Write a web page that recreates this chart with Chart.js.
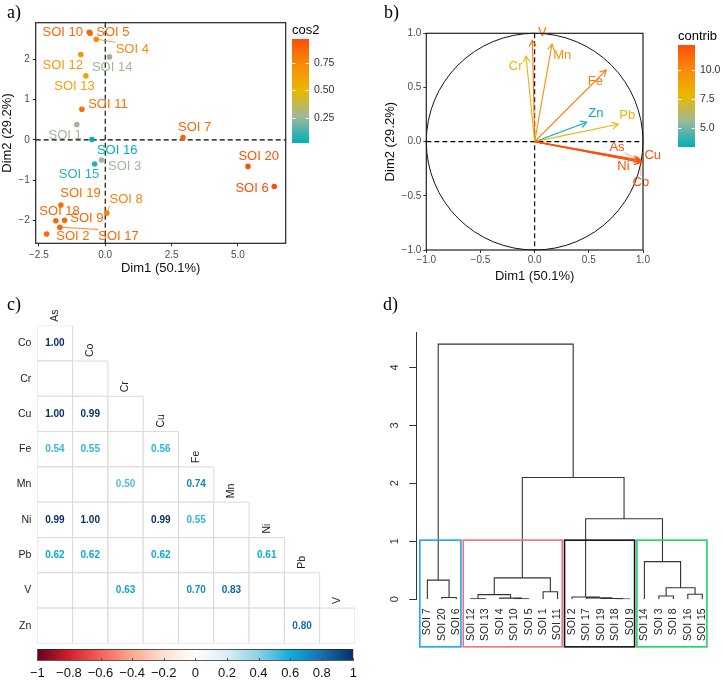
<!DOCTYPE html>
<html>
<head>
<meta charset="utf-8">
<script src="https://cdn.jsdelivr.net/npm/chart.js@4.4.1/dist/chart.umd.min.js"></script>
<style>
  body { margin: 0; background: #fff; width: 724px; height: 680px; position: relative; overflow: hidden; }
  .panel { position: absolute; }
  .tag { position: absolute; font-family: 'Liberation Serif', 'Times New Roman', serif; font-size: 18px; color: #000; line-height: 1; }
</style>
</head>
<body>
<div class="panel" style="left:0;top:0;width:362px;height:290px"><canvas id="pcaInd"></canvas></div>
<div class="panel" style="left:362px;top:0;width:362px;height:290px"><canvas id="pcaVar"></canvas></div>
<div class="panel" style="left:0;top:290px;width:362px;height:360px"><canvas id="corr"></canvas></div>
<div class="panel" style="left:0;top:645px;width:362px;height:35px"><canvas id="corrBar"></canvas></div>
<div class="panel" style="left:362px;top:290px;width:362px;height:390px"><canvas id="dendro"></canvas></div>
<div class="tag" style="left:7px;top:3px">a)</div>
<div class="tag" style="left:384px;top:3px">b)</div>
<div class="tag" style="left:7px;top:295px">c)</div>
<div class="tag" style="left:383px;top:295px">d)</div>
<script>
// ---- données : individus (ACP) ----
const soiNames = ['SOI 1', 'SOI 2', 'SOI 3', 'SOI 4', 'SOI 5', 'SOI 6', 'SOI 7', 'SOI 8', 'SOI 9', 'SOI 10',
  'SOI 11', 'SOI 12', 'SOI 13', 'SOI 14', 'SOI 15', 'SOI 16', 'SOI 17', 'SOI 18', 'SOI 19', 'SOI 20'];
const dim1 = [-1.07, -2.21, -0.14, -0.34, -0.57, 6.37, 2.93, 0.06, -1.53, -0.60, -0.88, -0.92, -0.73, 0.16, -0.40, -0.50, -1.71, -1.86, -1.67, 5.38];
const dim2 = [0.38, -2.34, -0.50, 2.50, 2.65, -1.16, 0.06, -1.82, -2.00, 2.67, 0.76, 2.12, 1.59, 2.06, -0.60, 0.01, -2.17, -2.01, -1.62, -0.66];
const cos2 = [0.26, 0.86, 0.26, 0.74, 0.86, 0.97, 0.88, 0.76, 0.88, 0.88, 0.84, 0.67, 0.62, 0.27, 0.08, 0.02, 0.88, 0.88, 0.85, 0.95];
// où poser les étiquettes (repel)
const indLabX = [-1.51, -1.22, 0.73, 1.02, 0.29, 5.53, 3.37, 0.79, -0.69, -1.60, 0.10, -1.60, -1.16, 0.26, -0.99, 0.45, 0.50, -1.72, -0.93, 5.78];
const indLabY = [0.12, -2.40, -0.67, 2.25, 2.67, -1.20, 0.31, -1.49, -1.94, 2.67, 0.88, 1.86, 1.32, 1.79, -0.85, -0.26, -2.40, -1.77, -1.34, -0.41];
const indSegments = ['SOI 4', 'SOI 8', 'SOI 17'];
const cos2Ticks = [0.25, 0.5, 0.75];

// ---- données : variables ----
const varNames = ['As', 'Co', 'Cr', 'Cu', 'Fe', 'Mn', 'Ni', 'Pb', 'V', 'Zn'];
const varDim1 = [0.97, 0.98, -0.08, 0.99, 0.66, 0.16, 0.98, 0.77, -0.02, 0.48];
const varDim2 = [-0.17, -0.19, 0.79, -0.18, 0.66, 0.90, -0.19, 0.16, 0.935, 0.18];
const contrib = [12.0, 12.15, 8.0, 12.1, 10.6, 9.7, 12.0, 7.9, 11.1, 3.4];
const varLabX = [0.76, 0.98, -0.175, 1.09, 0.56, 0.255, 0.82, 0.855, 0.07, 0.565];
const varLabY = [-0.05, -0.38, 0.69, -0.13, 0.56, 0.80, -0.225, 0.243, 1.01, 0.265];
const varSegments = ['As', 'Co'];
const contribTicks = [5, 7.5, 10];

// ---- données : corrélations ----
const corrRows = ['Co', 'Cr', 'Cu', 'Fe', 'Mn', 'Ni', 'Pb', 'V', 'Zn'];
const corrCols = ['As', 'Co', 'Cr', 'Cu', 'Fe', 'Mn', 'Ni', 'Pb', 'V'];
const corrValues = [
  [1.00],
  [null, null],
  [1.00, 0.99, null],
  [0.54, 0.55, null, 0.56],
  [null, null, 0.50, null, 0.74],
  [0.99, 1.00, null, 0.99, 0.55, null],
  [0.62, 0.62, null, 0.62, null, null, 0.61],
  [null, null, 0.63, null, 0.70, 0.83, null, null],
  [null, null, null, null, null, null, null, 0.80, null]
];

// ---- données : dendrogramme ----
const leafOrder = ['SOI 7', 'SOI 20', 'SOI 6', 'SOI 12', 'SOI 13', 'SOI 4', 'SOI 10', 'SOI 5', 'SOI 1', 'SOI 11',
  'SOI 2', 'SOI 17', 'SOI 19', 'SOI 18', 'SOI 9', 'SOI 14', 'SOI 3', 'SOI 8', 'SOI 16', 'SOI 15'];
const mergeA = [-2, -1, -4, -7, -6, 3, -9, 6, -14, -13, -12, -11, -17, -19, 13, -16, 12, 8, 2];
const mergeB = [-3, 1, -5, -8, 4, 5, -10, 7, -15, 9, 10, 11, -18, -20, 14, 15, 16, 17, 18];
const mergeH = [0.03, 0.33, 0.01, 0.01, 0.02, 0.08, 0.13, 0.37, 0.006, 0.015, 0.025, 0.04, 0.057, 0.086, 0.20, 0.65, 1.39, 2.10, 4.40];
const groupFirst = [1, 4, 11, 16];
const groupLast = [3, 10, 15, 20];
const groupColors = ['#1ca6f2', '#f4707e', '#111111', '#22d35f'];

// Réglages globaux
Chart.defaults.animation = false;
Chart.defaults.events = [];
Chart.defaults.maintainAspectRatio = false;
Chart.defaults.font.family = "'Liberation Sans', Arial, sans-serif";
Chart.defaults.plugins.legend.display = false;
Chart.defaults.plugins.tooltip.enabled = false;

const FONT = "'Liberation Sans', Arial, sans-serif";
const fxStops = [[0, '#00AFBB'], [0.25, '#9db79b'], [0.5, '#EBB800'], [0.75, '#f88c0a'], [1, '#FC4E07']];
const rdbuStops = [[0, '#67001f'], [0.1, '#d21f2c'], [0.2, '#f2625a'], [0.3, '#fba98e'], [0.4, '#fde0d2'], [0.5, '#ffffff'],
  [0.6, '#d9eef6'], [0.7, '#8ed0e8'], [0.8, '#12acd8'], [0.9, '#1470b0'], [1, '#053061']];

function hexRgb(h) {
  const n = parseInt(h.slice(1), 16);
  return [n >> 16, (n >> 8) & 255, n & 255];
}
function rampColor(stops, t) {
  t = Math.max(0, Math.min(1, t));
  for (let i = 1; i < stops.length; i++) {
    if (t <= stops[i][0]) {
      const f = (t - stops[i - 1][0]) / (stops[i][0] - stops[i - 1][0]);
      const a = hexRgb(stops[i - 1][1]), b = hexRgb(stops[i][1]);
      return 'rgb(' + a.map((v, k) => Math.round(v + (b[k] - v) * f)).join(',') + ')';
    }
  }
  return stops[stops.length - 1][1];
}
function fmtNum(v, d) {
  const s = Math.abs(v).toFixed(d);
  return (v < -1e-9 ? '\u2212' : '') + s;
}

// barre de couleur verticale (légende ggplot)
function drawColorbar(ctx, x, y, w, h, vmin, vmax, ticks, digits, title) {
  const g = ctx.createLinearGradient(0, y + h, 0, y);
  fxStops.forEach(s => g.addColorStop(s[0], s[1]));
  ctx.fillStyle = g;
  ctx.fillRect(x, y, w, h);
  ctx.strokeStyle = 'rgba(255,255,255,0.9)';
  ctx.lineWidth = 1;
  ctx.font = '10.5px ' + FONT;
  ctx.textAlign = 'left';
  ctx.textBaseline = 'middle';
  ticks.forEach(v => {
    const py = Math.round(y + h - (v - vmin) / (vmax - vmin) * h) + 0.5;
    ctx.beginPath();
    ctx.moveTo(x, py); ctx.lineTo(x + 3.5, py);
    ctx.moveTo(x + w - 3.5, py); ctx.lineTo(x + w, py);
    ctx.stroke();
    ctx.fillStyle = '#333';
    ctx.fillText(v.toFixed(digits), x + w + 5, py);
  });
  ctx.fillStyle = '#000';
  ctx.font = '13px ' + FONT;
  ctx.fillText(title, x, y - 9);
}

function labelRect(ctx, cx, cy, text) {
  const w = ctx.measureText(text).width;
  return { l: cx - w / 2, r: cx + w / 2, t: cy - 7, b: cy + 6 };
}
function nearestOnRect(r, px, py) {
  return [Math.max(r.l, Math.min(r.r, px)), Math.max(r.t, Math.min(r.b, py))];
}

function drawZeroLines(chart) {
  const { ctx, chartArea: a, scales: { x, y } } = chart;
  const x0 = x.getPixelForValue(0), y0 = y.getPixelForValue(0);
  ctx.save();
  ctx.strokeStyle = '#000';
  ctx.lineWidth = 1.1;
  ctx.setLineDash([5, 3]);
  ctx.beginPath();
  ctx.moveTo(a.left, y0); ctx.lineTo(a.right, y0);
  ctx.moveTo(x0, a.top); ctx.lineTo(x0, a.bottom);
  ctx.stroke();
  ctx.restore();
}
function drawFrame(chart) {
  const { ctx, chartArea: a } = chart;
  ctx.save();
  ctx.strokeStyle = '#222';
  ctx.lineWidth = 1.2;
  ctx.strokeRect(a.left, a.top, a.right - a.left, a.bottom - a.top);
  ctx.restore();
}

// ---------------- a) individus ----------------
const cosMin = Math.min(...cos2), cosMax = Math.max(...cos2);
const indColors = cos2.map(v => rampColor(fxStops, (v - cosMin) / (cosMax - cosMin)));

const indPlugin = {
  id: 'indPlugin',
  beforeDatasetsDraw(chart) { drawZeroLines(chart); },
  afterDatasetsDraw(chart) {
    const { ctx, scales: { x, y } } = chart;
    ctx.save();
    ctx.font = '13px ' + FONT;
    ctx.textAlign = 'center';
    ctx.textBaseline = 'middle';
    soiNames.forEach((name, i) => {
      const lx = x.getPixelForValue(indLabX[i]), ly = y.getPixelForValue(indLabY[i]);
      if (indSegments.includes(name)) {
        const px = x.getPixelForValue(dim1[i]), py = y.getPixelForValue(dim2[i]);
        const [ex, ey] = nearestOnRect(labelRect(ctx, lx, ly, name), px, py);
        ctx.strokeStyle = indColors[i];
        ctx.lineWidth = 0.8;
        ctx.beginPath(); ctx.moveTo(px, py); ctx.lineTo(ex, ey); ctx.stroke();
      }
      ctx.fillStyle = indColors[i];
      ctx.fillText(name, lx, ly);
    });
    ctx.restore();
    drawFrame(chart);
    ctx.save();
    drawColorbar(ctx, 292, 39, 17, 104, cosMin, cosMax, cos2Ticks, 2, 'cos2');
    ctx.restore();
  }
};

new Chart(document.getElementById('pcaInd'), {
  type: 'scatter',
  data: {
    datasets: [{
      data: dim1.map((v, i) => ({ x: v, y: dim2[i] })),
      backgroundColor: indColors,
      pointRadius: 2.8,
      borderWidth: 0
    }]
  },
  options: {
    layout: { padding: { left: 0, top: 22.7, right: 76.3, bottom: 0 } },
    scales: {
      x: {
        type: 'linear', min: -2.62, max: 6.8,
        grid: { drawOnChartArea: false, color: '#333', tickLength: 3 },
        border: { display: false },
        ticks: { stepSize: 2.5, includeBounds: false, padding: 3, color: '#4d4d4d', font: { size: 10 }, maxRotation: 0, callback: v => fmtNum(v, 1) },
        title: { display: true, text: 'Dim1 (50.1%)', color: '#111', font: { size: 13 }, padding: { top: 0, bottom: 14 } },
        afterFit: s => { s.height = 46.7; }
      },
      y: {
        type: 'linear', min: -2.57, max: 2.91,
        grid: { drawOnChartArea: false, color: '#333', tickLength: 3 },
        border: { display: false },
        ticks: { stepSize: 1, includeBounds: false, padding: 3, color: '#4d4d4d', font: { size: 10 }, callback: v => fmtNum(v, 0) },
        title: { display: true, text: 'Dim2 (29.2%)', color: '#111', font: { size: 13 }, padding: { top: 0, bottom: 0 } },
        afterFit: s => { s.width = 35.7; }
      }
    }
  },
  plugins: [indPlugin]
});

// ---------------- b) variables ----------------
const ctbMin = Math.min(...contrib), ctbMax = Math.max(...contrib);
const varColors = contrib.map(v => rampColor(fxStops, (v - ctbMin) / (ctbMax - ctbMin)));

const varPlugin = {
  id: 'varPlugin',
  beforeDatasetsDraw(chart) {
    const { ctx, scales: { x, y } } = chart;
    drawZeroLines(chart);
    ctx.save();
    ctx.strokeStyle = '#111';
    ctx.lineWidth = 1;
    ctx.beginPath();
    ctx.ellipse(x.getPixelForValue(0), y.getPixelForValue(0),
      x.getPixelForValue(1) - x.getPixelForValue(0), y.getPixelForValue(0) - y.getPixelForValue(1), 0, 0, Math.PI * 2);
    ctx.stroke();
    ctx.restore();
  },
  afterDatasetsDraw(chart) {
    const { ctx, scales: { x, y } } = chart;
    ctx.save();
    // pointes de flèches
    varNames.forEach((name, i) => {
      const x0 = x.getPixelForValue(0), y0 = y.getPixelForValue(0);
      const x1 = x.getPixelForValue(varDim1[i]), y1 = y.getPixelForValue(varDim2[i]);
      const ang = Math.atan2(y1 - y0, x1 - x0);
      const len = 7;
      ctx.strokeStyle = varColors[i];
      ctx.lineWidth = 1.1;
      ctx.beginPath();
      ctx.moveTo(x1 - len * Math.cos(ang - Math.PI / 6), y1 - len * Math.sin(ang - Math.PI / 6));
      ctx.lineTo(x1, y1);
      ctx.lineTo(x1 - len * Math.cos(ang + Math.PI / 6), y1 - len * Math.sin(ang + Math.PI / 6));
      ctx.stroke();
    });
    ctx.font = '13px ' + FONT;
    ctx.textAlign = 'center';
    ctx.textBaseline = 'middle';
    varNames.forEach((name, i) => {
      const lx = x.getPixelForValue(varLabX[i]), ly = y.getPixelForValue(varLabY[i]);
      if (varSegments.includes(name)) {
        const px = x.getPixelForValue(varDim1[i]), py = y.getPixelForValue(varDim2[i]);
        const [ex, ey] = nearestOnRect(labelRect(ctx, lx, ly, name), px, py);
        ctx.strokeStyle = varColors[i];
        ctx.globalAlpha = 0.6;
        ctx.lineWidth = 0.8;
        ctx.beginPath(); ctx.moveTo(px, py); ctx.lineTo(ex, ey); ctx.stroke();
        ctx.globalAlpha = 1;
      }
      ctx.fillStyle = varColors[i];
      ctx.fillText(name, lx, ly);
    });
    ctx.restore();
    drawFrame(chart);
    ctx.save();
    drawColorbar(ctx, 316, 45, 17, 102, ctbMin, ctbMax, contribTicks, 1, 'contrib');
    ctx.restore();
  }
};

new Chart(document.getElementById('pcaVar'), {
  type: 'scatter',
  data: {
    datasets: varNames.map((name, i) => ({
      label: name,
      data: [{ x: 0, y: 0 }, { x: varDim1[i], y: varDim2[i] }],
      showLine: true,
      borderColor: varColors[i],
      borderWidth: 1.1,
      pointRadius: 0
    }))
  },
  options: {
    layout: { padding: { left: 0, top: 33.3, right: 81, bottom: 0 } },
    scales: {
      x: {
        type: 'linear', min: -1, max: 1,
        grid: { drawOnChartArea: false, color: '#333', tickLength: 3 },
        border: { display: false },
        ticks: { stepSize: 0.5, padding: 1, color: '#4d4d4d', font: { size: 10 }, maxRotation: 0, callback: v => fmtNum(v, 1) },
        title: { display: true, text: 'Dim1 (50.1%)', color: '#111', font: { size: 13 }, padding: { top: 0, bottom: 6 } },
        afterFit: s => { s.height = 40; }
      },
      y: {
        type: 'linear', min: -1, max: 1,
        grid: { drawOnChartArea: false, color: '#333', tickLength: 3 },
        border: { display: false },
        ticks: { stepSize: 0.5, padding: 2, color: '#4d4d4d', font: { size: 10 }, callback: v => fmtNum(v, 1) },
        title: { display: true, text: 'Dim2 (29.2%)', color: '#111', font: { size: 13 }, padding: { top: 20.5, bottom: 0 } },
        afterFit: s => { s.width = 64.3; }
      }
    }
  },
  plugins: [varPlugin]
});

// ---------------- c) corrélations ----------------
const corrCells = [];
corrRows.forEach((r, ri) => {
  corrCols.forEach((c, ci) => {
    if (ci <= ri) corrCells.push({ x: ci + 1, y: ri + 1 });
  });
});

const corrPlugin = {
  id: 'corrPlugin',
  afterDatasetsDraw(chart) {
    const { ctx, chartArea: a, scales: { x, y } } = chart;
    ctx.save();
    ctx.fillStyle = '#222';
    ctx.font = '10.5px ' + FONT;
    // noms de lignes
    ctx.textAlign = 'right';
    ctx.textBaseline = 'middle';
    corrRows.forEach((name, ri) => {
      ctx.fillText(name, a.left - 6, y.getPixelForValue(ri + 1));
    });
    // noms de colonnes sur la diagonale
    ctx.textAlign = 'left';
    corrCols.forEach((name, ci) => {
      const px = x.getPixelForValue(ci + 1);
      const top = y.getPixelForValue(ci + 0.5);
      ctx.save();
      ctx.translate(px, top - 4);
      ctx.rotate(-Math.PI / 2);
      ctx.fillText(name, 0, 0);
      ctx.restore();
    });
    // coefficients
    ctx.font = 'bold 10px ' + FONT;
    ctx.textAlign = 'center';
    corrValues.forEach((row, ri) => {
      row.forEach((v, ci) => {
        if (v === null) return;
        ctx.fillStyle = rampColor(rdbuStops, (v + 1) / 2);
        ctx.fillText(v.toFixed(2), x.getPixelForValue(ci + 1), y.getPixelForValue(ri + 1));
      });
    });
    ctx.restore();
  }
};

new Chart(document.getElementById('corr'), {
  type: 'scatter',
  data: {
    datasets: [{
      data: corrCells,
      pointStyle: 'rect',
      backgroundColor: '#fff',
      borderColor: '#d9d9d9',
      borderWidth: 1,
      pointRadius: c => {
        const a = c.chart.chartArea;
        return a ? (a.right - a.left) / corrCols.length / Math.SQRT2 : 0;
      }
    }]
  },
  options: {
    layout: { padding: { left: 37.3, top: 35.7, right: 7, bottom: 6.6 } },
    scales: {
      x: { type: 'linear', min: 0.5, max: 9.5, display: false },
      y: { type: 'linear', min: 0.5, max: 9.5, reverse: true, display: false }
    }
  },
  plugins: [corrPlugin]
});

// petites graduations sous la barre de couleur
const barTicksPlugin = {
  id: 'barTicks',
  afterDatasetsDraw(chart) {
    const { ctx, chartArea: a, scales: { x } } = chart;
    ctx.save();
    ctx.strokeStyle = '#444';
    ctx.lineWidth = 1;
    ctx.beginPath();
    x.ticks.forEach(t => {
      const px = Math.round(x.getPixelForValue(t.value)) + 0.5;
      ctx.moveTo(px, a.bottom); ctx.lineTo(px, a.bottom - 2.5);
    });
    ctx.stroke();
    ctx.restore();
  }
};

new Chart(document.getElementById('corrBar'), {
  type: 'bar',
  data: {
    labels: [''],
    datasets: [{
      data: [[-1, 1]],
      backgroundColor: c => {
        const a = c.chart.chartArea;
        if (!a) return '#fff';
        const g = c.chart.ctx.createLinearGradient(a.left, 0, a.right, 0);
        rdbuStops.forEach(s => g.addColorStop(s[0], s[1]));
        return g;
      },
      borderColor: '#222',
      borderWidth: 1,
      borderSkipped: false,
      barPercentage: 1,
      categoryPercentage: 1
    }]
  },
  options: {
    indexAxis: 'y',
    layout: { padding: { left: 37.3, top: 4, right: 7.7, bottom: 0 } },
    scales: {
      x: {
        type: 'linear', min: -1, max: 1,
        grid: { drawOnChartArea: false, drawTicks: false },
        border: { display: false },
        ticks: { stepSize: 0.2, padding: 5, color: '#111', font: { size: 13 }, autoSkip: false, maxRotation: 0, callback: v => fmtNum(parseFloat(v.toFixed(1)), Math.abs(Math.round(v) - v) < 1e-6 ? 0 : 1) },
        afterFit: s => { s.height = 19.3; }
      },
      y: { display: false }
    }
  },
  plugins: [barTicksPlugin]
});

// ---------------- d) dendrogramme ----------------
const nodeX = [], nodeH = [];
const dendroPts = [];
mergeH.forEach((h, k) => {
  const child = m => m < 0 ? [-m, 0] : [nodeX[m - 1], nodeH[m - 1]];
  const [xa, ha] = child(mergeA[k]);
  const [xb, hb] = child(mergeB[k]);
  nodeX.push((xa + xb) / 2);
  nodeH.push(h);
  dendroPts.push({ x: xa, y: ha }, { x: xa, y: h }, { x: xb, y: h }, { x: xb, y: hb }, { x: xb, y: null });
});
const sortedH = [...mergeH].sort((p, q) => q - p);
const boxTop = (sortedH[groupFirst.length - 2] + sortedH[groupFirst.length - 1]) / 2;

const dendroPlugin = {
  id: 'dendroPlugin',
  afterDraw(chart) {
    const { ctx, scales: { x, y } } = chart;
    ctx.save();
    ctx.lineWidth = 1.6;
    groupFirst.forEach((f, g) => {
      const l = x.getPixelForValue(f - 0.52), r = x.getPixelForValue(groupLast[g] + 0.32);
      const t = y.getPixelForValue(boxTop), b = y.getPixelForValue(-0.82);
      ctx.strokeStyle = groupColors[g];
      ctx.strokeRect(l, t, r - l, b - t);
    });
    // étiquettes de l'axe vertical, tournées comme dans R
    ctx.fillStyle = '#333';
    ctx.font = '11px ' + FONT;
    ctx.textAlign = 'center';
    ctx.textBaseline = 'middle';
    y.ticks.forEach(t => {
      ctx.save();
      ctx.translate(33.3, y.getPixelForValue(t.value));
      ctx.rotate(-Math.PI / 2);
      ctx.fillText(String(t.value), 0, 0);
      ctx.restore();
    });
    ctx.restore();
  }
};

new Chart(document.getElementById('dendro'), {
  type: 'scatter',
  data: {
    datasets: [{
      data: dendroPts,
      showLine: true,
      spanGaps: false,
      borderColor: '#333',
      borderWidth: 1.1,
      pointRadius: 0
    }]
  },
  options: {
    layout: { padding: { left: 0, top: 42.7, right: 4, bottom: 0 } },
    scales: {
      x: {
        type: 'linear', min: 0.236, max: 20.58,
        grid: { display: false, drawTicks: false },
        border: { display: false },
        ticks: { stepSize: 1, includeBounds: false, autoSkip: false, minRotation: 90, maxRotation: 90, padding: 9, color: '#222', font: { size: 10.5 },
          callback: v => Number.isInteger(v) ? leafOrder[v - 1] : '' },
        afterFit: s => { s.height = 80.7; }
      },
      y: {
        type: 'linear', min: 0, max: 4.597,
        grid: { drawOnChartArea: false, color: '#333', tickLength: 7 },
        border: { display: true, color: '#333' },
        ticks: { stepSize: 1, includeBounds: false, padding: 4, color: 'rgba(0,0,0,0)', font: { size: 11 } },
        afterFit: s => { s.width = 54.3; }
      }
    }
  },
  plugins: [dendroPlugin]
});
</script>
</body>
</html>
